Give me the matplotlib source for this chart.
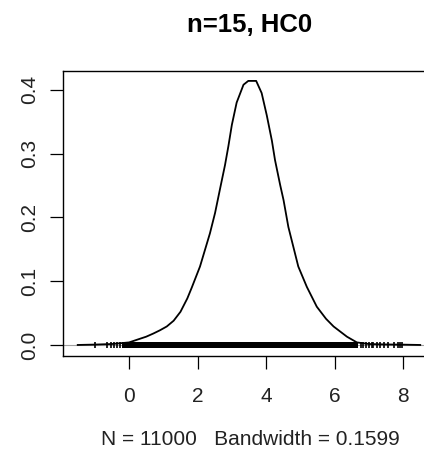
import matplotlib
matplotlib.use('Agg')
import matplotlib.pyplot as plt

# density curve
dens_x = [-1.5, -1.0, -0.5, 0.0, 0.22, 0.5, 0.71, 0.9, 1.1, 1.3, 1.5, 1.7, 1.83, 2.07,
          2.36, 2.51, 2.66, 2.80, 2.90, 3.00, 3.14, 3.34, 3.48, 3.71, 3.87, 4.02, 4.17,
          4.26, 4.41, 4.51, 4.65, 4.94, 5.19, 5.48, 5.75, 5.97, 6.36, 6.65, 7.0, 7.5,
          8.0, 8.5]
dens_y = [0.0, 0.0006, 0.0015, 0.004, 0.008, 0.013, 0.018, 0.023, 0.029, 0.038, 0.052,
          0.073, 0.090, 0.123, 0.175, 0.207, 0.246, 0.282, 0.312, 0.345, 0.380, 0.408,
          0.414, 0.414, 0.395, 0.360, 0.320, 0.290, 0.251, 0.227, 0.185, 0.123, 0.091,
          0.060, 0.041, 0.029, 0.013, 0.004, 0.0015, 0.0008, 0.0005, 0.0]

# rug: sparse ticks in the tails, solid band in the middle
rug_left = [-1.01, -0.65, -0.53, -0.44, -0.34, -0.27]
rug_right = [6.76, 6.84, 6.92, 7.0, 7.08, 7.13, 7.23, 7.33, 7.43, 7.57, 7.72, 7.85, 7.91, 7.97]
rug_band = (-0.21, 6.69)

title = 'n=15, HC0'
xlab = 'N = 11000   Bandwidth = 0.1599'
xticks = [0, 2, 4, 6, 8]
yticks = [0.0, 0.1, 0.2, 0.3, 0.4]

plt.rcParams['font.family'] = ['Liberation Sans', 'DejaVu Sans']

fig = plt.figure(figsize=(4.24, 4.59), dpi=100)
ax = fig.add_axes([63 / 424, 1 - 356 / 459, 374 / 424, 285.3 / 459])

ax.axhline(0, color='#a0a0a0', lw=0.8, zorder=1)
ax.plot(dens_x, dens_y, color='black', lw=1.3, zorder=3)
ax.fill_between(rug_band, -0.004, 0.004, color='black', lw=0, zorder=2)
ax.plot(rug_left + rug_right, [0] * len(rug_left + rug_right), ls='none',
        marker='|', ms=4.5, mew=1.2, color='black', zorder=2)

ax.set_xlim(-1.93, 8.99)
ax.set_ylim(-0.0173, 0.430)
ax.set_xticks(xticks)
ax.set_xticklabels([str(t) for t in xticks])
ax.set_yticks(yticks)
ax.set_yticklabels(['%.1f' % t for t in yticks], rotation=90, va='center')
ax.tick_params(length=9.5, width=0.9, labelsize=15, color='black', labelcolor='#222222')
ax.tick_params(axis='x', pad=13)
ax.tick_params(axis='y', pad=8)
for s in ax.spines.values():
    s.set_linewidth(1.0)

ax.set_title(title, fontsize=18.5, fontweight='bold', pad=28)
ax.set_xlabel(xlab, fontsize=15, labelpad=17, color='#222222')

fig.savefig('out.png', dpi=100)
